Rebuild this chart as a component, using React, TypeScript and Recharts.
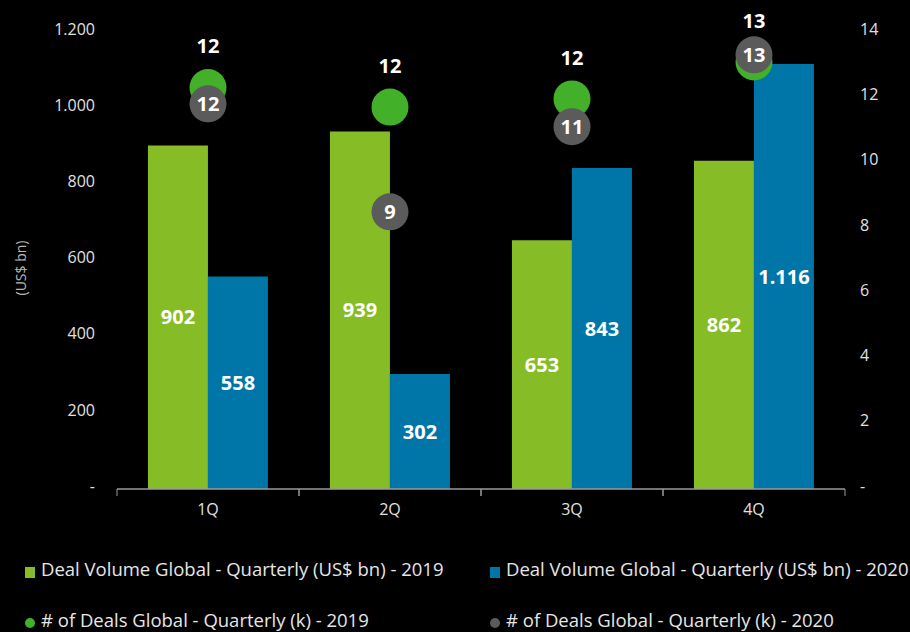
import { ComposedChart, Bar, Line, XAxis, YAxis, LabelList } from 'recharts';

const quarters = ['1Q', '2Q', '3Q', '4Q'];
const volume2019 = [902, 939, 653, 862];
const volume2020 = [558, 302, 843, 1116];
const deals2019 = [12.3, 11.7, 11.95, 13.08];
const deals2020 = [11.8, 8.49, 11.1, 13.3];
const dealLabels2019 = ['12', '12', '12', '13'];
const dealLabels2020 = ['12', '9', '11', '13'];
const leftTicks = [0, 200, 400, 600, 800, 1000, 1200];
const rightTicks = [0, 2, 4, 6, 8, 10, 12, 14];

const seriesNames = [
    'Deal Volume Global - Quarterly (US$ bn) - 2019',
    'Deal Volume Global - Quarterly (US$ bn) - 2020',
    '# of Deals Global - Quarterly (k) - 2019',
    '# of Deals Global - Quarterly (k) - 2020',
];

const GREEN = '#86BC25';
const BLUE = '#0076A8';
const DOT_GREEN = '#43B02A';
const DOT_GRAY = '#5B5B5B';
const FONT = '"Open Sans", sans-serif';

const data = quarters.map((q, i) => ({
    quarter: q,
    v2019: volume2019[i],
    v2020: volume2020[i],
    d2019: deals2019[i],
    d2020: deals2020[i],
    l2019: dealLabels2019[i],
    l2020: dealLabels2020[i],
}));

const fmtThousands = (v: number) =>
    v === 0 ? '-' : String(v).replace(/\B(?=(\d{3})+(?!\d))/g, '.');

function QuarterTick(props: any) {
    const { x, y, payload } = props;
    const half = payload?.offset ?? 91;
    return (
        <g>
            <line x1={x - half} x2={x - half} y1={y - 8} y2={y - 1} stroke="#9a9a9a" />
            <line x1={x + half} x2={x + half} y1={y - 8} y2={y - 1} stroke="#9a9a9a" />
            <text x={x} y={y + 18} textAnchor="middle" fill="#e0e0e0" fontSize={16} fontFamily={FONT}>
                {payload.value}
            </text>
        </g>
    );
}

const legendItems = [
    { name: seriesNames[0], color: GREEN, round: false },
    { name: seriesNames[1], color: BLUE, round: false },
    { name: seriesNames[2], color: DOT_GREEN, round: true },
    { name: seriesNames[3], color: DOT_GRAY, round: true },
];

export default function App() {
    return (
        <div style={{ position: 'absolute', left: 0, top: 0, width: 910, height: 632, background: '#000', fontFamily: FONT }}>
            <ComposedChart
                width={910}
                height={520}
                data={data}
                margin={{ top: 32, right: 0, left: 0, bottom: 0 }}
                barCategoryGap="17%"
                barGap={0}
            >
                <XAxis
                    dataKey="quarter"
                    height={31}
                    axisLine={{ stroke: '#9a9a9a', strokeWidth: 1.5 }}
                    tickLine={false}
                    tick={<QuarterTick />}
                    interval={0}
                />
                <YAxis
                    yAxisId="left"
                    width={117}
                    domain={[0, 1200]}
                    ticks={leftTicks}
                    tickFormatter={fmtThousands}
                    axisLine={false}
                    tickLine={false}
                    tickMargin={16}
                    tick={{ fill: '#e0e0e0', fontSize: 16, fontFamily: FONT, dy: -3 }}
                    label={{
                        value: '(US$ bn)',
                        content: () => (
                            <text
                                x={22}
                                y={268}
                                transform="rotate(-90, 22, 268)"
                                textAnchor="middle"
                                dominantBaseline="middle"
                                fill="#b8b8b8"
                                fontSize={14}
                                fontFamily={FONT}
                            >
                                (US$ bn)
                            </text>
                        ),
                    }}
                />
                <YAxis
                    yAxisId="right"
                    orientation="right"
                    width={65}
                    domain={[0, 14]}
                    ticks={rightTicks}
                    tickFormatter={(v: number) => (v === 0 ? '-' : String(v))}
                    axisLine={false}
                    tickLine={false}
                    tickMargin={9}
                    tick={{ fill: '#e0e0e0', fontSize: 16, fontFamily: FONT, dy: -3 }}
                />
                <Bar yAxisId="left" dataKey="v2019" fill={GREEN} isAnimationActive={false}>
                    <LabelList dataKey="v2019" position="center" fill="#fff" fontSize={20} fontWeight="bold" fontFamily={FONT} formatter={(v: any) => fmtThousands(Number(v))} />
                </Bar>
                <Bar yAxisId="left" dataKey="v2020" fill={BLUE} isAnimationActive={false}>
                    <LabelList dataKey="v2020" position="center" fill="#fff" fontSize={20} fontWeight="bold" fontFamily={FONT} formatter={(v: any) => fmtThousands(Number(v))} />
                </Bar>
                <Line
                    yAxisId="right"
                    dataKey="d2019"
                    stroke="none"
                    strokeWidth={0}
                    dot={{ r: 18.5, fill: DOT_GREEN, stroke: 'none' }}
                    activeDot={false}
                    isAnimationActive={false}
                >
                    <LabelList dataKey="l2019" position="top" offset={34} fill="#fff" fontSize={20} fontWeight="bold" fontFamily={FONT} />
                </Line>
                <Line
                    yAxisId="right"
                    dataKey="d2020"
                    stroke="none"
                    strokeWidth={0}
                    dot={{ r: 18.5, fill: DOT_GRAY, stroke: 'none' }}
                    activeDot={false}
                    isAnimationActive={false}
                >
                    <LabelList dataKey="l2020" position="center" fill="#fff" fontSize={20} fontWeight="bold" fontFamily={FONT} />
                </Line>
            </ComposedChart>
            <div
                style={{
                    position: 'absolute',
                    left: 25,
                    top: 558,
                    display: 'grid',
                    gridTemplateColumns: '465px auto',
                    rowGap: 29,
                    color: '#e6e6e6',
                    fontSize: 18.5,
                    lineHeight: '22px',
                }}
            >
                {legendItems.map((item) => (
                    <div key={item.name} style={{ display: 'flex', alignItems: 'center', whiteSpace: 'nowrap' }}>
                        <span
                            style={{
                                display: 'inline-block',
                                width: 10,
                                height: item.round ? 10 : 11,
                                marginRight: 6,
                                marginTop: 6,
                                background: item.color,
                                borderRadius: item.round ? '50%' : 0,
                            }}
                        />
                        <span>{item.name}</span>
                    </div>
                ))}
            </div>
        </div>
    );
}
